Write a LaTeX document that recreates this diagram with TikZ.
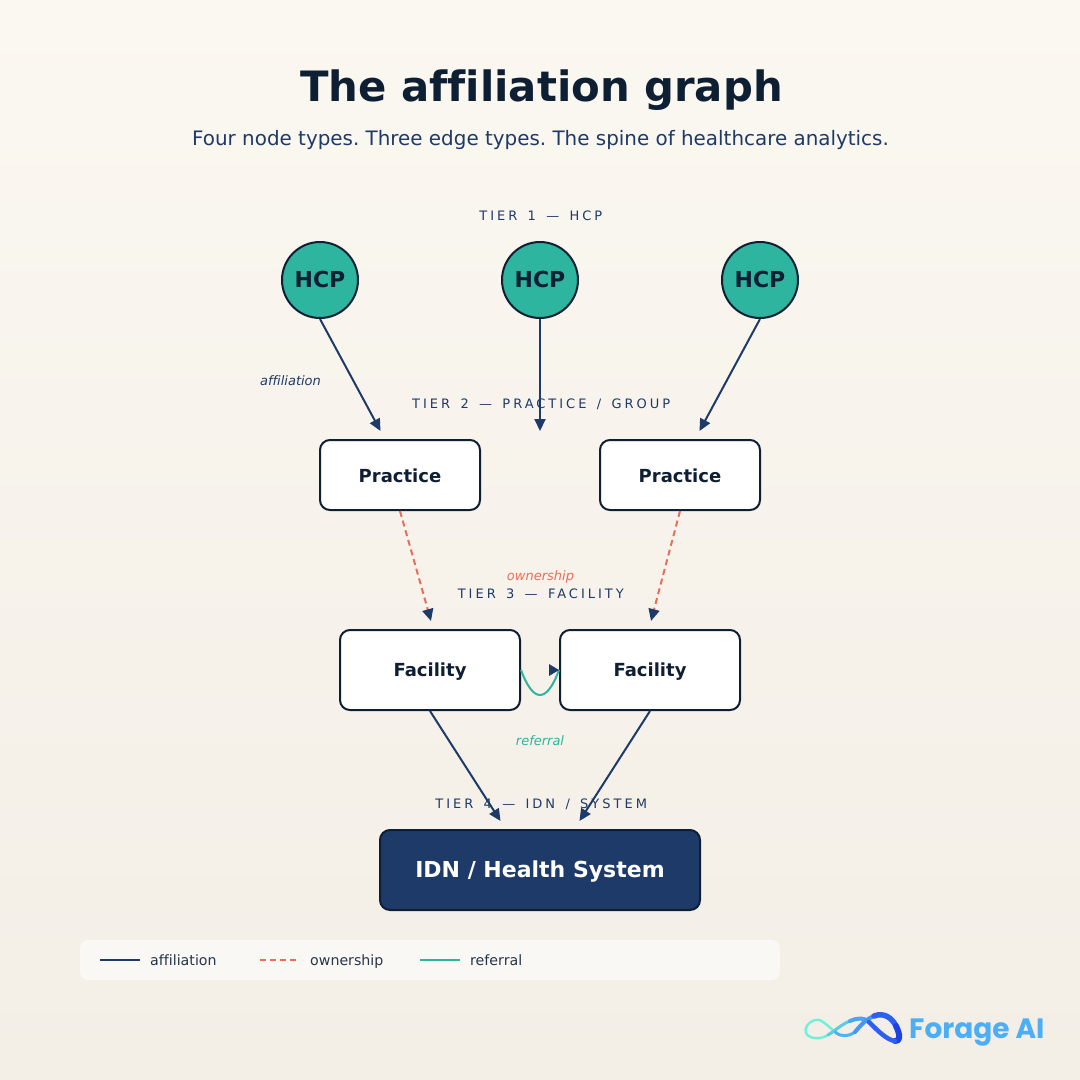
\documentclass[tikz,border=0pt]{standalone}
\usepackage{fontspec}
\setmainfont[Ligatures=NoCommon]{DejaVu Sans}
\newfontfamily\tierfont[LetterSpace=23,WordSpace=1.45]{DejaVu Sans}
\newfontfamily\logofont{Poppins}
\usetikzlibrary{arrows.meta}
\definecolor{navy}{HTML}{1E3A68}
\definecolor{ink}{HTML}{0F1F33}
\definecolor{tealc}{HTML}{2DB5A0}
\definecolor{coral}{HTML}{E76F5A}
\definecolor{logoblue}{HTML}{4DAEF8}
\definecolor{bgtop}{HTML}{FBF8F1}
\definecolor{bgbot}{HTML}{F3EEE6}
\definecolor{lg1}{HTML}{6FF0D8}
\definecolor{lg2}{HTML}{5ACDE6}
\definecolor{lg3}{HTML}{4BA5F5}
\definecolor{lg4}{HTML}{4BB4F0}
\definecolor{lg5}{HTML}{4696F5}
\definecolor{lg6}{HTML}{2D5FF0}
\definecolor{lg7}{HTML}{1E41E1}
\newcommand{\fs}[1]{\fontsize{#1}{#1}\selectfont\frenchspacing}
\tikzset{
  hcp/.style={circle,draw=ink,line width=2pt,fill=tealc,minimum size=76pt,inner sep=0pt,text=ink,font=\fs{22}\bfseries,text height=15.5pt,text depth=0pt},
  boxnode/.style={rectangle,rounded corners=10pt,draw=ink,line width=2pt,fill=white,inner sep=0pt,text=ink,font=\fs{18}\bfseries,text height=14pt,text depth=0pt},
  idn/.style={rectangle,rounded corners=10pt,draw=ink,line width=2pt,fill=navy,inner sep=0pt,text=white,font=\fs{22}\bfseries,text height=14pt,text depth=0pt},
  tier/.style={anchor=base,text=navy,font=\fs{13}\tierfont,inner sep=0pt},
  edgelabel/.style={anchor=base,font=\fs{13}\itshape,inner sep=0pt},
  legendtext/.style={anchor=base west,text=ink!90,font=\fs{14.2},inner sep=0pt},
  aff/.style={draw=navy,line width=2pt,-{Triangle[length=12pt,width=11pt]}},
  own/.style={draw=coral,line width=2pt,dash pattern=on 6pt off 4pt,-{Triangle[length=12pt,width=11pt,color=navy]}},
  refl/.style={draw=tealc,line width=2pt},
  swatch/.style={line width=2pt},
  logostroke/.style={line cap=round,line join=round}
}
\begin{document}
\begin{tikzpicture}[x=1pt,y=-1pt]
\useasboundingbox (0,0) rectangle (1080,1080);
\shade[top color=bgtop,bottom color=bgbot] (0,0) rectangle (1080,1080);
% titles
\node[anchor=base,text=ink,font=\fs{41.8}\bfseries,inner sep=0pt] (title) at (541.5,101) {The affiliation graph};
\node[anchor=base,text=navy,font=\fs{19.9},inner sep=0pt] (subtitle) at (540.5,145) {Four node types. Three edge types. The spine of healthcare analytics.};
% tier labels
\node[tier] (t1) at (540.8,220) {TIER 1 — HCP};
\node[tier] (t2) at (541.2,408) {TIER 2 — PRACTICE / GROUP};
\node[tier] (t3) at (540.8,598) {TIER 3 — FACILITY};
\node[tier] (t4) at (541.2,808) {TIER 4 — IDN / SYSTEM};
% nodes
\node[hcp] (h1) at (320,280) {HCP};
\node[hcp] (h2) at (540,280) {HCP};
\node[hcp] (h3) at (760,280) {HCP};
\node[boxnode,minimum width=160pt,minimum height=70pt] (p1) at (400,475) {Practice};
\node[boxnode,minimum width=160pt,minimum height=70pt] (p2) at (680,475) {Practice};
\node[boxnode,text height=13pt,minimum width=180pt,minimum height=80pt] (f1) at (430,670) {Facility};
\node[boxnode,text height=13pt,minimum width=180pt,minimum height=80pt] (f2) at (650,670) {Facility};
\node[idn,minimum width=320pt,minimum height=80pt] (sys) at (540,870) {IDN / Health System};
% edge targets
\coordinate (a1) at (380.5,431);
\coordinate (a2) at (540,431);
\coordinate (a3) at (699.5,431);
\coordinate (o1) at (431,621);
\coordinate (o2) at (651,621);
\coordinate (s1) at (500.5,821);
\coordinate (s2) at (579.5,821);
% edges
\draw[aff] (h1.south) -- (a1);
\draw[aff] (h2.south) -- (a2);
\draw[aff] (h3.south) -- (a3);
\draw[own] (p1.south) -- (o1);
\draw[own] (p2.south) -- (o2);
\draw[aff] (f1.south) -- (s1);
\draw[aff] (f2.south) -- (s2);
\draw[refl] (f1.east) .. controls (533.3,703.3) and (546.7,703.3) .. (f2.west);
\fill[navy] (f2.west) -- (549,664) -- (549,676) -- cycle;
% edge labels
\node[edgelabel,text=navy] (la) at (290.5,385) {affiliation};
\node[edgelabel,text=coral] (lo) at (540.5,580) {ownership};
\node[edgelabel,text=tealc] (lr) at (540,745) {referral};
% legend
\fill[white,opacity=.6,rounded corners=8pt] (80,940) rectangle (780,980);
\coordinate (k1a) at (100,960); \coordinate (k1b) at (140,960);
\coordinate (k2a) at (260,960); \coordinate (k2b) at (300,960);
\coordinate (k3a) at (420,960); \coordinate (k3b) at (460,960);
\draw[swatch,navy] (k1a) -- (k1b);
\draw[swatch,coral,dash pattern=on 6pt off 4pt] (k2a) -- (k2b);
\draw[swatch,tealc] (k3a) -- (k3b);
\node[legendtext] (k1) at (150,965) {affiliation};
\node[legendtext] (k2) at (310,965) {ownership};
\node[legendtext] (k3) at (470,965) {referral};
% logo
\begin{scope}[logostroke]
\draw[line width=2.4pt,lg1] (835,1032) .. controls (826,1024) and (820,1018) .. (815,1020) .. controls (808,1022) and (804,1028) .. (806,1033) .. controls (809,1039) and (820,1040) .. (828,1035);
\draw[line width=3pt,lg2] (828,1035) .. controls (836,1030) and (842,1024) .. (850,1021);
\draw[line width=4pt,lg3] (850,1021) .. controls (857,1018) and (864,1017) .. (869,1022);
\draw[line width=3pt,lg4] (835,1032) .. controls (841,1037) and (848,1037) .. (855,1032);
\draw[line width=4pt,lg5] (855,1032) .. controls (860,1026) and (866,1019) .. (874,1016);
\draw[line width=5.5pt,lg6] (874,1016) .. controls (884,1012) and (892,1018) .. (896,1026);
\draw[line width=6pt,lg7] (896,1026) .. controls (900,1034) and (901,1042) .. (895,1041);
\draw[line width=4.5pt,lg6] (895,1041) .. controls (887,1040) and (878,1031) .. (869,1022);
\end{scope}
\node[anchor=base west,inner sep=0pt,text=logoblue,font=\fs{28}\logofont\bfseries] (logo) at (909,1038) {Forage AI};
\end{tikzpicture}
\end{document}
